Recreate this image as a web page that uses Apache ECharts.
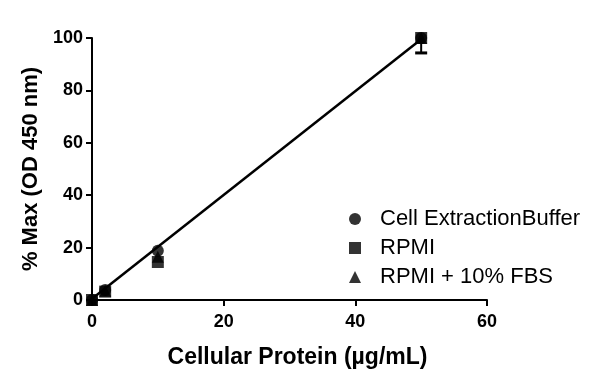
<!DOCTYPE html>
<html><head><meta charset="utf-8">
<script src="https://cdn.jsdelivr.net/npm/echarts@6/dist/echarts.min.js"></script>
<style>html,body{margin:0;padding:0;background:#fff}#c{width:600px;height:384px}</style>
</head><body><div id="c"></div>
<script>
const xValues = [0, 2, 10, 50];
const cellExtraction = [0, 3.8, 18.8, 100];
const rpmi = [0, 3.2, 14.5, 100];
const rpmiFbs = [0, 3.5, 16.5, 100];
const rpmiErrLow = [0, 0, 0, 5.7];
const fitX = [0, 50];
const fitY = [0.5, 99.5];
const xTicks = [0, 20, 40, 60];
const yTicks = [0, 20, 40, 60, 80, 100];

const font = '"Liberation Sans", Arial, sans-serif';
const pair = (xs, ys) => xs.map((x, i) => [x, ys[i]]);

const chart = echarts.init(document.getElementById('c'));
chart.setOption({
  animation: false,
  grid: {left: 92, right: 113, top: 38, bottom: 84},
  xAxis: {
    type: 'value', min: xTicks[0], max: xTicks[xTicks.length - 1], interval: 20,
    name: 'Cellular Protein (µg/mL)', nameLocation: 'middle', nameGap: 46,
    nameTextStyle: {fontFamily: font, fontWeight: 'bold', fontSize: 23, color: '#000', padding: [0, 0, 0, 16]},
    axisLine: {lineStyle: {color: '#000', width: 2}},
    axisTick: {show: true, length: 6, lineStyle: {color: '#000', width: 2}},
    axisLabel: {fontFamily: font, fontWeight: 'bold', fontSize: 18, color: '#000', margin: 13},
    splitLine: {show: false}
  },
  yAxis: {
    type: 'value', min: yTicks[0], max: yTicks[yTicks.length - 1], interval: 20,
    name: '% Max (OD 450 nm)', nameLocation: 'middle', nameGap: 50,
    nameTextStyle: {fontFamily: font, fontWeight: 'bold', fontSize: 22, color: '#000'},
    axisLine: {show: true, lineStyle: {color: '#000', width: 2}},
    axisTick: {show: true, length: 6, lineStyle: {color: '#000', width: 2}},
    axisLabel: {fontFamily: font, fontWeight: 'bold', fontSize: 18, color: '#000', margin: 9},
    splitLine: {show: false}
  },
  legend: {
    orient: 'vertical', left: 344, top: 203, itemGap: 7,
    itemWidth: 12, itemHeight: 12,
    data: [
      {name: 'Cell ExtractionBuffer', icon: 'circle'},
      {name: 'RPMI', icon: 'rect'},
      {name: 'RPMI + 10% FBS', icon: 'triangle'}
    ],
    textStyle: {fontFamily: font, fontSize: 22, color: '#000', padding: [0, 0, 0, 14]}
  },
  series: [
    {
      type: 'line', data: pair(fitX, fitY), showSymbol: false, symbol: 'none',
      lineStyle: {color: '#000', width: 2.5}, silent: true, z: 1
    },
    {
      type: 'custom', name: 'err', z: 2,
      data: pair(xValues, rpmi).map((p, i) => [p[0], p[1], p[1] - rpmiErrLow[i]]),
      renderItem: function (params, api) {
        const x = api.value(0), y = api.value(1), lo = api.value(2);
        if (y === lo) return null;
        const p1 = api.coord([x, y]), p2 = api.coord([x, lo]);
        return {type: 'group', children: [
          {type: 'line', shape: {x1: p1[0], y1: p1[1], x2: p2[0], y2: p2[1]}, style: {stroke: '#000', lineWidth: 2}},
          {type: 'line', shape: {x1: p2[0] - 6, y1: p2[1], x2: p2[0] + 6, y2: p2[1]}, style: {stroke: '#000', lineWidth: 3}}
        ]};
      }
    },
    {
      name: 'Cell ExtractionBuffer', type: 'scatter', symbol: 'circle', symbolSize: 12,
      data: pair(xValues, cellExtraction), itemStyle: {color: '#000'}, z: 3
    },
    {
      name: 'RPMI', type: 'scatter', symbol: 'rect', symbolSize: 12,
      data: pair(xValues, rpmi), itemStyle: {color: '#000'}, z: 3
    },
    {
      name: 'RPMI + 10% FBS', type: 'scatter', symbol: 'triangle', symbolSize: 12,
      data: pair(xValues, rpmiFbs), itemStyle: {color: '#000'}, z: 3
    }
  ]
});
</script></body></html>
